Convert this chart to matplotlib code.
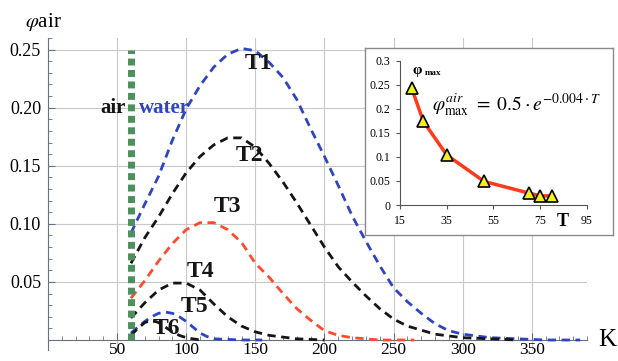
import matplotlib.pyplot as plt
from matplotlib.ticker import MultipleLocator, FixedLocator

plt.rcParams['font.family'] = ['Liberation Serif', 'DejaVu Serif']
plt.rcParams['mathtext.fontset'] = 'stix'

# air / water boundary
boundary_x = 60
boundary_top = 0.25

# curves
t1_x = [60, 70, 80, 90, 100, 110, 120, 130, 140, 150, 160, 170, 180, 190, 200, 210, 220, 230, 240, 250, 260, 270, 280, 290, 300, 320, 340, 360, 385]
t1_y = [0.092, 0.117, 0.141, 0.172, 0.199, 0.219, 0.235, 0.246, 0.251, 0.249, 0.239, 0.226, 0.207, 0.182, 0.158, 0.133, 0.107, 0.085, 0.064, 0.045, 0.033, 0.023, 0.014, 0.008, 0.005, 0.002, 0.001, 0.0, 0.0]

t2_x = [60, 70, 80, 90, 100, 110, 120, 130, 140, 150, 160, 170, 180, 190, 200, 210, 220, 230, 240, 250, 260, 280, 300, 340]
t2_y = [0.066, 0.088, 0.106, 0.126, 0.144, 0.158, 0.168, 0.174, 0.174, 0.166, 0.152, 0.136, 0.118, 0.099, 0.080, 0.063, 0.050, 0.038, 0.027, 0.018, 0.012, 0.005, 0.002, 0.0]

t3_x = [60, 70, 80, 90, 100, 110, 120, 130, 140, 150, 160, 170, 180, 190, 200, 210, 220, 240, 265]
t3_y = [0.036, 0.051, 0.068, 0.083, 0.095, 0.101, 0.101, 0.095, 0.084, 0.066, 0.054, 0.040, 0.027, 0.017, 0.008, 0.004, 0.002, 0.0, 0.0]

t4_x = [60, 70, 80, 90, 100, 110, 120, 130, 140, 150, 160, 180, 200]
t4_y = [0.019, 0.032, 0.043, 0.049, 0.049, 0.043, 0.031, 0.020, 0.012, 0.007, 0.004, 0.001, 0.0]

t5_x = [60, 65, 70, 75, 80, 85, 90, 95, 100, 105, 110, 115, 120, 140, 155]
t5_y = [0.006, 0.011, 0.016, 0.020, 0.023, 0.024, 0.023, 0.020, 0.016, 0.011, 0.006, 0.003, 0.001, 0.0, 0.0]

t6_x = [60, 65, 70, 75, 80, 85, 90, 95, 100, 110]
t6_y = [0.004, 0.010, 0.015, 0.017, 0.015, 0.011, 0.007, 0.004, 0.002, 0.0]

curve_names = ['T1', 'T2', 'T3', 'T4', 'T5', 'T6']

# inset: maximum vs T
inset_T = [20, 25, 35, 51, 70, 75, 80]
inset_phi = [0.243, 0.174, 0.104, 0.049, 0.025, 0.019, 0.019]

blue = '#2f44c0'
black = '#151515'
red = '#ff4b2b'
green = '#4e8f5e'

fig = plt.figure(figsize=(6.18, 3.61), dpi=100)
ax = fig.add_axes([0.0777, 0.0305, 0.8722, 0.8643])

curves = [(t1_x, t1_y, blue), (t2_x, t2_y, black), (t3_x, t3_y, red),
          (t4_x, t4_y, black), (t5_x, t5_y, blue), (t6_x, t6_y, black)]
for xs, ys, c in curves:
    ax.plot(xs, ys, color=c, lw=2, ls=(0, (3, 2)), zorder=3)

ax.plot([boundary_x, boundary_x], [0, boundary_top], color=green, lw=5,
        ls=(0, (1, 0.65)), zorder=4)

ax.set_xlim(0, 390)
ax.set_ylim(-0.0086, 0.26)
ax.spines['top'].set_visible(False)
ax.spines['right'].set_visible(False)
ax.spines['bottom'].set_position(('data', 0))
for s in ['left', 'bottom']:
    ax.spines[s].set_color('#6a6f80')
    ax.spines[s].set_linewidth(0.8)

ax.xaxis.set_major_locator(FixedLocator([50, 100, 150, 200, 250, 300, 350]))
ax.xaxis.set_minor_locator(MultipleLocator(10))
ax.yaxis.set_major_locator(FixedLocator([0.05, 0.10, 0.15, 0.20, 0.25]))
ax.yaxis.set_minor_locator(MultipleLocator(0.01))
ax.set_yticklabels(['0.05', '0.10', '0.15', '0.20', '0.25'])
ax.tick_params(which='major', direction='in', length=5, width=0.8, color='#6a6f80', labelsize=13, pad=5)
ax.tick_params(axis='x', which='major', pad=1.5, labelsize=12.5)
ax.tick_params(which='minor', direction='in', length=3, width=0.6, color='#6a6f80')
ax.grid(True, which='major', color='#c8c8c8', lw=0.8)
ax.set_axisbelow(True)

label_pos = [(152, 0.238), (146, 0.159), (130, 0.115), (110, 0.059), (106, 0.029), (86, 0.010)]
for name, (lx, ly) in zip(curve_names, label_pos):
    ax.text(lx, ly, name, fontsize=17, fontweight='bold', ha='center', va='center', color=black, zorder=5)

ax.text(56, 0.2, 'air', fontsize=15, fontweight='bold', ha='right', va='center', color=black)
ax.text(66, 0.2, 'water', fontsize=15, fontweight='bold', ha='left', va='center', color=blue)

fig.text(0.04, 0.94, r'$\varphi$' + 'air', fontsize=15, ha='left', va='center')
fig.text(0.982, 0.058, 'K', fontsize=18, ha='center', va='center')

# inset box
box = fig.add_axes([0.5906, 0.349, 0.4013, 0.518])
box.set_xticks([])
box.set_yticks([])
box.set_facecolor('white')
for s in box.spines.values():
    s.set_color('#8a8a8a')
    s.set_linewidth(1)
box.set_zorder(5)

ins = fig.add_axes([0.6472, 0.4321, 0.3026, 0.3997])
ins.set_zorder(6)
ins.patch.set_alpha(0)
ins.plot(inset_T, inset_phi, color='#ff3a1a', lw=2.5, zorder=3)
ins.plot(inset_T, inset_phi, ls='none', marker='^', ms=9, mfc='#f4ef1e', mec='black', mew=1.2, zorder=4)
ins.set_xlim(15, 95)
ins.set_ylim(0, 0.3)
ins.set_xticks([15, 35, 55, 75, 95])
ins.set_yticks([0, 0.05, 0.1, 0.15, 0.2, 0.25, 0.3])
ins.set_yticklabels(['0', '0.05', '0.1', '0.15', '0.2', '0.25', '0.3'])
ins.spines['top'].set_visible(False)
ins.spines['right'].set_visible(False)
for s in ['left', 'bottom']:
    ins.spines[s].set_color('#555555')
ins.tick_params(direction='out', length=3, labelsize=8.5, pad=4, color='#555555')

ins.text(20.5, 0.279, 'φ', fontsize=11, fontweight='bold', ha='left', va='center')
ins.text(25.8, 0.274, 'max', fontsize=6.5, fontweight='bold', ha='left', va='center')
ins.text(28.8, 0.207, r'$\varphi^{air}_{\max}\ =\ 0.5\cdot e^{-0.004\cdot T}$', fontsize=14, ha='left', va='center')
ins.text(84.5, -0.035, 'T', fontsize=13, fontweight='bold', ha='center', va='center', clip_on=False)

fig.savefig('out.png', dpi=100)
